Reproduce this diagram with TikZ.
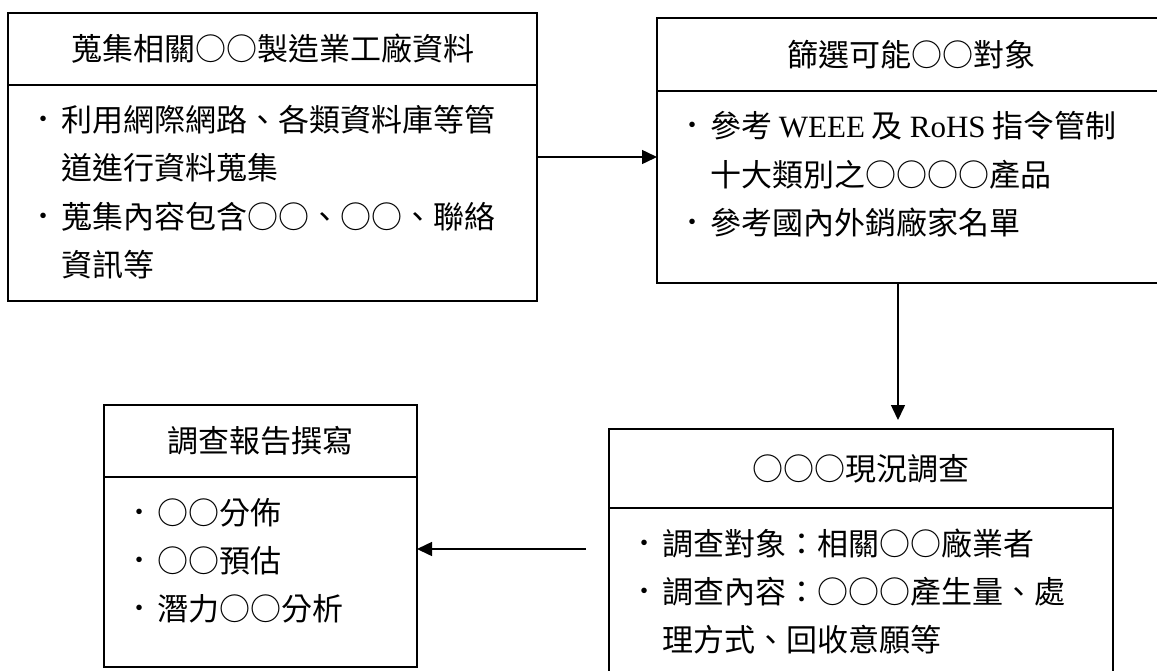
\documentclass[tikz,border=0pt]{standalone}
\usepackage{fontspec}
\setmainfont{Noto Sans CJK TC}
\newfontfamily\lat{Liberation Serif}
\usetikzlibrary{arrows.meta}
\newcommand\bu{\makebox[22pt][l]{\raisebox{5pt}{\fontsize{23}{23}\selectfont\lat •}}}
\newcommand\ind{\hspace*{22pt}}
\begin{document}
\begin{tikzpicture}[x=1pt,y=-1pt,
  box/.style={draw, line width=1.8pt, rectangle, inner sep=0pt, outer sep=0pt,
    font=\fontsize{31}{36}\selectfont},
  ln/.style={anchor=base west, inner sep=0pt, outer sep=0pt, font=\fontsize{31}{36}\selectfont},
  arr/.style={line width=1.5pt, -{Triangle[length=15pt,width=14pt]}}]
\useasboundingbox (0,0) rectangle (1157,670);
% Box 1
\node[box, minimum width=529pt, minimum height=72pt] (b1title) at (272.5,49) {蒐集相關○○製造業工廠資料};
\node[box, minimum width=529pt, minimum height=216pt] (b1body) at (272.5,193) {};
\node[ln] (b1l1) at (39,131) {\bu 利用網際網路、各類資料庫等管};
\node[ln] (b1l2) at (39,179) {\ind 道進行資料蒐集};
\node[ln] (b1l3) at (39,228) {\bu 蒐集內容包含○○、○○、聯絡};
\node[ln] (b1l4) at (39,276) {\ind 資訊等};
% Box 2
\node[box, minimum width=508pt, minimum height=73pt] (b2title) at (911,54.5) {篩選可能○○對象};
\node[box, minimum width=508pt, minimum height=192pt] (b2body) at (911,187) {};
\node[ln] (b2l1) at (688,137) {\bu 參考 {\lat WEEE} 及 {\lat RoHS} 指令管制};
\node[ln] (b2l2) at (688,186) {\ind 十大類別之○○○○產品};
\node[ln] (b2l3) at (688,234) {\bu 參考國內外銷廠家名單};
% Box 3
\node[box, minimum width=504pt, minimum height=79pt] (b3title) at (861,468.5) {○○○現況調查};
\node[box, minimum width=504pt, minimum height=182pt] (b3body) at (861,599) {};
\node[ln] (b3l1) at (640,555) {\bu 調查對象：相關○○廠業者};
\node[ln] (b3l2) at (640,603) {\bu 調查內容：○○○產生量、處};
\node[ln] (b3l3) at (640,651) {\ind 理方式、回收意願等};
% Box 4
\node[box, minimum width=313pt, minimum height=72pt] (b4title) at (260.5,441) {調查報告撰寫};
\node[box, minimum width=313pt, minimum height=190pt] (b4body) at (260.5,572) {};
\node[ln] (b4l1) at (135,524) {\bu ○○分佈};
\node[ln] (b4l2) at (135,572) {\bu ○○預估};
\node[ln] (b4l3) at (135,620) {\bu 潛力○○分析};
% Connectors
\coordinate (a1) at (0,157);
\coordinate (a2) at (898,0);
\coordinate (a3) at (586,549);
\draw[arr] (b1body.east |- a1) -- (b2body.west |- a1);
\draw[arr, shorten >=9pt] (b2body.south -| a2) -- (b3title.north -| a2);
\draw[arr] (a3) -- (b4body.east |- a3);
\end{tikzpicture}
\end{document}
